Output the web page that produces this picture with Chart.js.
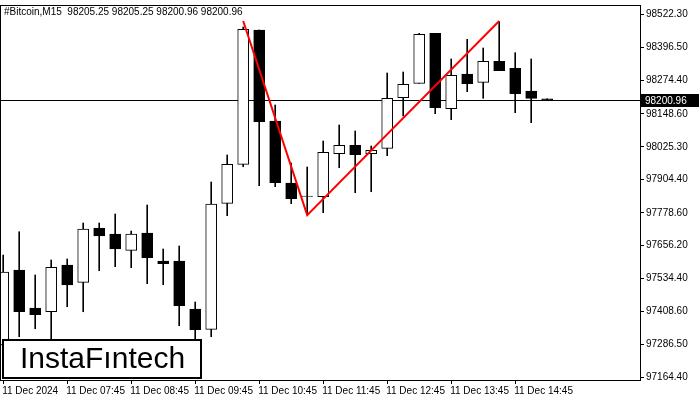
<!DOCTYPE html>
<html>
<head>
<meta charset="utf-8">
<script src="https://cdn.jsdelivr.net/npm/chart.js@4"></script>
<style>
  html, body { margin: 0; padding: 0; background: #fff; }
  #wrap { width: 700px; height: 400px; }
</style>
</head>
<body>
<div id="wrap"><canvas id="c" width="700" height="400"></canvas></div>
<script>
// OHLC values (M15 candles)
const opens  = [97284.1, 97564.6, 97422.5, 97408.6, 97583.3, 97518.6, 97721.7, 97699.3, 97638.3, 97703.0,
                97598.3, 97598.3, 97418.7, 97342.8, 97814.2, 97960.1, 98462.5, 98122.0, 97890.1, 97841.5,
                97838.8, 97999.7, 98031.1, 97999.7, 98019.9, 98209.2, 98263.1, 98450.1, 98168.1, 98297.9,
                98266.8, 98345.4, 98319.2, 98234.3, 98205.25];
const highs  = [97620.7, 97707.9, 97545.9, 97602.0, 97605.8, 97740.5, 97740.5, 97774.1, 97710.5, 97807.8,
                97643.2, 97654.4, 97444.9, 97893.8, 97994.8, 98473.7, 98462.5, 98181.9, 97964.9, 97950.0,
                98047.2, 98107.1, 98084.6, 98028.5, 98301.6, 98305.3, 98450.1, 98450.1, 98354.0, 98427.7,
                98395.1, 98493.5, 98377.5, 98354.0, 98205.25];
const lows   = [97265.3, 97315.1, 97345.0, 97307.6, 97427.3, 97408.6, 97562.0, 97577.0, 97573.2, 97513.4,
                97509.6, 97356.3, 97284.1, 97315.1, 97767.8, 97951.1, 97880.0, 97876.3, 97812.7, 97770.4,
                97779.0, 97947.3, 97853.8, 97857.5, 97992.2, 98140.7, 98263.1, 98149.4, 98126.9, 98231.6,
                98207.0, 98310.2, 98153.1, 98115.7, 98200.96];
const closes = [97557.1, 97408.6, 97397.4, 97574.7, 97508.5, 97718.0, 97691.8, 97643.2, 97699.3, 97610.6,
                97588.2, 97431.1, 97341.3, 97811.5, 97960.1, 98465.1, 98119.4, 97891.2, 97831.4, 97839.6,
                98004.9, 98031.1, 97996.0, 98012.4, 98207.0, 98259.3, 98446.4, 98171.8, 98293.0, 98261.6,
                98345.4, 98310.2, 98224.2, 98207.0, 98200.96];

// pattern line (double top): candle index and price
const patternX = [15, 19, 31];
const patternY = [98496, 97770, 98496];

const lastPrice = 98200.96;
const priceTicks = [97164.40, 97286.50, 97408.60, 97534.40, 97656.20, 97778.60, 97904.40,
                    98025.30, 98148.60, 98274.40, 98396.50, 98522.30];
const timeTickIdx = [0, 4, 8, 12, 16, 20, 24, 28, 32];
const timeLabels  = ['11 Dec 2024', '11 Dec 07:45', '11 Dec 08:45', '11 Dec 09:45', '11 Dec 10:45',
                     '11 Dec 11:45', '11 Dec 12:45', '11 Dec 13:45', '11 Dec 14:45'];

const FONT = 'Liberation Sans';

const wicks = opens.map((o, i) => ({ x: i, y: [lows[i], highs[i]] }));
const bodies = opens.map((o, i) => ({ x: i, y: [o, closes[i] === o ? o + 0.6 : closes[i]] }));
const bodyFill = opens.map((o, i) => closes[i] >= o ? '#ffffff' : '#000000');

const overlay = {
  id: 'overlay',
  beforeDatasetsDraw(chart) {
    const { ctx, chartArea: a, scales: { y } } = chart;
    const py = Math.round(y.getPixelForValue(lastPrice)) + 0.5;
    ctx.save();
    ctx.strokeStyle = '#000';
    ctx.lineWidth = 1;
    ctx.beginPath(); ctx.moveTo(a.left, py); ctx.lineTo(a.right, py); ctx.stroke();
    ctx.restore();
  },
  afterDraw(chart) {
    const { ctx, chartArea: a, scales: { x, y } } = chart;
    ctx.save();
    // frame
    ctx.strokeStyle = '#000';
    ctx.lineWidth = 1;
    ctx.strokeRect(a.left + 0.5, a.top + 0.5, a.right - a.left, a.bottom - a.top);
    // time labels, left-aligned at their ticks
    ctx.fillStyle = '#000';
    ctx.font = '10px ' + FONT;
    ctx.textBaseline = 'top';
    timeTickIdx.forEach((v, i) => ctx.fillText(timeLabels[i], x.getPixelForValue(v) - 1, a.bottom + 6));
    // last price tag
    const py = Math.round(y.getPixelForValue(lastPrice));
    ctx.fillStyle = '#000';
    ctx.fillRect(a.right + 1, py - 6, 58, 13);
    ctx.fillStyle = '#fff';
    ctx.textBaseline = 'middle';
    ctx.fillText(lastPrice.toFixed(2), a.right + 5, py + 1);
    // title
    ctx.fillStyle = '#000';
    ctx.textBaseline = 'top';
    ctx.fillText('#Bitcoin,M15  98205.25 98205.25 98200.96 98200.96', a.left + 4, a.top + 2);
    // logo
    ctx.fillStyle = '#fff';
    ctx.fillRect(3, 340, 198, 38);
    ctx.lineWidth = 2;
    ctx.strokeStyle = '#000';
    ctx.strokeRect(3, 340, 198, 38);
    ctx.fillStyle = '#000';
    ctx.font = '30px ' + FONT;
    ctx.textBaseline = 'middle';
    ctx.fillText('InstaFıntech', 20, 360);
    ctx.restore();
  }
};

new Chart(document.getElementById('c'), {
  type: 'bar',
  data: {
    datasets: [
      { type: 'line', data: patternX.map((x, i) => ({ x, y: patternY[i] })),
        borderColor: '#ff0000', borderWidth: 2, pointRadius: 0, tension: 0, order: 0 },
      { data: bodies, backgroundColor: bodyFill, borderColor: '#000', borderWidth: 1,
        borderSkipped: false, barThickness: 11, grouped: false, order: 1 },
      { data: wicks, backgroundColor: '#000', barThickness: 1, grouped: false, order: 2 }
    ]
  },
  options: {
    responsive: false,
    animation: false,
    plugins: { legend: { display: false }, tooltip: { enabled: false } },
    layout: { padding: { top: 5, left: 0, right: 0, bottom: 2 } },
    scales: {
      x: {
        type: 'linear', min: -0.2, max: 39.8, offset: false,
        afterBuildTicks(s) { s.ticks = timeTickIdx.map(v => ({ value: v })); },
        afterFit(s) { s.height = 18; s.paddingLeft = 0; s.paddingRight = 0; },
        grid: { drawOnChartArea: false, tickLength: 4, color: '#000', offset: false },
        border: { display: false },
        ticks: { display: true, color: 'rgba(0,0,0,0)', font: { size: 1 }, callback: () => '' }
      },
      y: {
        position: 'right', min: 97153.2, max: 98556,
        afterBuildTicks(s) { s.ticks = priceTicks.map(v => ({ value: v })); },
        afterFit(s) { s.width = 60; s.paddingTop = 0; },
        grid: { drawOnChartArea: false, tickLength: 4, color: '#000' },
        border: { display: false },
        ticks: {
          autoSkip: false, padding: 2, color: '#000', font: { family: FONT, size: 10 },
          callback: v => v.toFixed(2)
        }
      }
    }
  },
  plugins: [overlay]
});
</script>
</body>
</html>
